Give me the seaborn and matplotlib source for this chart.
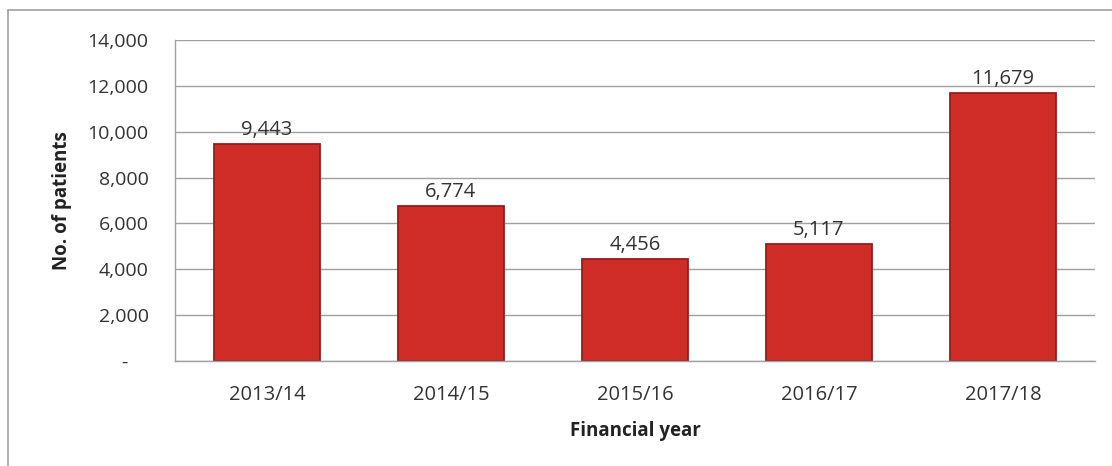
import matplotlib
matplotlib.use("Agg")
import matplotlib.pyplot as plt
from matplotlib.lines import Line2D
from matplotlib.ticker import FuncFormatter
import seaborn as sns
import pandas as pd

years = ["2013/14", "2014/15", "2015/16", "2016/17", "2017/18"]
patients = [9443, 6774, 4456, 5117, 11679]
y_ticks = [0, 2000, 4000, 6000, 8000, 10000, 12000, 14000]

df = pd.DataFrame({"year": years, "patients": patients})

sns.set_theme(style="white")
plt.rcParams["font.family"] = ["Open Sans", "DejaVu Sans"]

fig = plt.figure(figsize=(11.12, 4.66), dpi=100)
ax = fig.add_axes([175 / 1112, 1 - 361 / 466, 920 / 1112, 321 / 466])

sns.barplot(data=df, x="year", y="patients", ax=ax, color="#d02c28",
            saturation=1, width=0.58, edgecolor="#961d1d", linewidth=1.3)

ax.set_ylim(0, 14000)
ax.set_yticks(y_ticks)
# accounting-style axis: zero shown as a dash
ax.yaxis.set_major_formatter(FuncFormatter(lambda v, p: "-    " if v == 0 else f"{int(v):,}"))
ax.grid(axis="y", color="#a0a0a0", linewidth=1.0)
ax.set_axisbelow(True)
for s in ["top", "right"]:
    ax.spines[s].set_visible(False)
for s in ["left", "bottom"]:
    ax.spines[s].set_color("#a0a0a0")
    ax.spines[s].set_linewidth(1.0)

ax.tick_params(axis="y", labelsize=14, colors="#333333", pad=19, length=0)
ax.tick_params(axis="x", labelsize=14.5, colors="#333333", pad=17, length=0)

for bar, val in zip(ax.patches, patients):
    ax.annotate(f"{val:,}", (bar.get_x() + bar.get_width() / 2, val),
                xytext=(0, 3), textcoords="offset points",
                ha="center", va="bottom", fontsize=14.5, color="#333333")

ax.set_xlabel("Financial year", fontsize=13.5, fontweight="bold", color="#222222", labelpad=12)
ax.set_ylabel("No. of patients", fontsize=13.5, fontweight="bold", color="#222222", labelpad=11)

# outer chart frame
fig.add_artist(Line2D([8 / 1112, 1.0], [1 - 10 / 466, 1 - 10 / 466],
                      transform=fig.transFigure, color="#a0a0a0", linewidth=1.2))
fig.add_artist(Line2D([8 / 1112, 8 / 1112], [0, 1 - 10 / 466],
                      transform=fig.transFigure, color="#a0a0a0", linewidth=1.2))

fig.savefig("out.png", dpi=100, facecolor="white")
